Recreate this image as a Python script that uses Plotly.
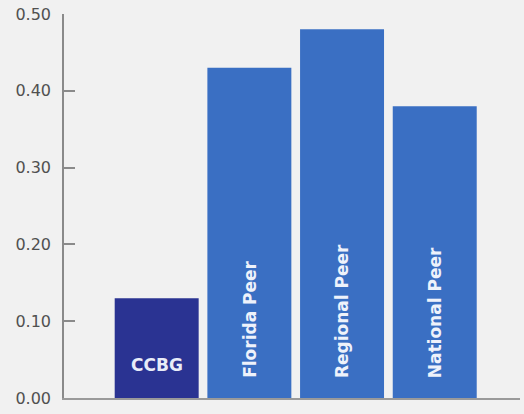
import plotly.graph_objects as go

categories = ["CCBG", "Florida Peer", "Regional Peer", "National Peer"]
values = [0.13, 0.43, 0.48, 0.38]
bar_colors = ["#2a3392", "#3a6fc3", "#3a6fc3", "#3a6fc3"]
tick_vals = [0.0, 0.1, 0.2, 0.3, 0.4, 0.5]
tick_text = ["0.00", "0.10", "0.20", "0.30", "0.40", "0.50"]

fig = go.Figure()
fig.add_trace(go.Bar(
    x=list(range(len(categories))), y=values,
    marker=dict(color=bar_colors, line=dict(width=0)),
    hoverinfo="skip", showlegend=False,
))

for i, (c, v) in enumerate(zip(categories, values)):
    if i == 0:
        fig.add_annotation(x=i, y=0, xref="x", yref="y", text="<b>%s</b>" % c,
                           showarrow=False, yanchor="bottom", yshift=21,
                           font=dict(family="DejaVu Sans", size=17, color="#e8ecf8"))
    else:
        fig.add_annotation(x=i, y=0, xref="x", yref="y", text="<b>%s</b>" % c,
                           showarrow=False, yanchor="bottom", yshift=18, textangle=-90,
                           font=dict(family="DejaVu Sans", size=17, color="#eef2fb"))

fig.update_layout(
    width=524, height=414,
    margin=dict(l=64, r=4, t=14, b=16),
    paper_bgcolor="#f1f1f1", plot_bgcolor="rgba(0,0,0,0)",
    bargap=0.094,
    xaxis=dict(range=[-1, 3.92], showticklabels=False, showgrid=False, zeroline=False,
               showline=True, linecolor="#9a9a9a", linewidth=1.5, ticks="", fixedrange=True),
    yaxis=dict(range=[0, 0.5], tickvals=tick_vals, ticktext=tick_text, showgrid=False,
               zeroline=False, showline=True, linecolor="#8a8a8a", linewidth=1.5,
               ticks="inside", ticklen=11, tickcolor="#8a8a8a", tickwidth=1.5,
               ticklabelstandoff=8,
               tickfont=dict(family="DejaVu Sans", size=16, color="#505050")),
)

fig.write_html("out.html")
